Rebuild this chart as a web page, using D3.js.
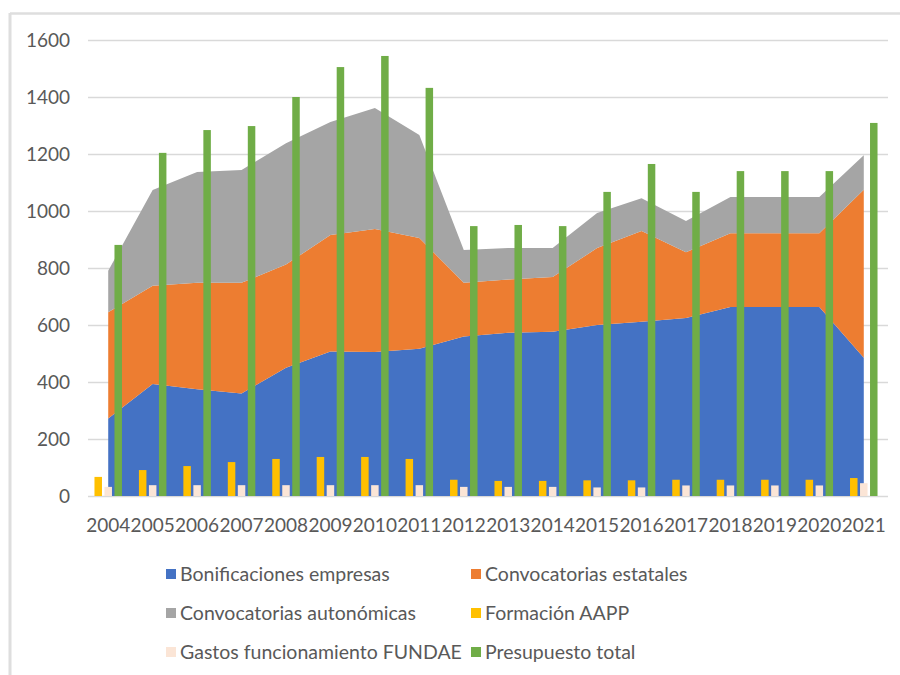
<!DOCTYPE html>
<html>
<head>
<meta charset="utf-8">
<script src="https://cdn.jsdelivr.net/npm/d3@7"></script>
<style>
  body { margin: 0; background: #fff; }
  svg { display: block; font-family: Lato, "Open Sans", sans-serif; }
</style>
</head>
<body>
<div id="chart"></div>
<script>
// data (millions of euros)
let years = ["2004", "2005", "2006", "2007", "2008", "2009", "2010", "2011", "2012",
             "2013", "2014", "2015", "2016", "2017", "2018", "2019", "2020", "2021"];
let bonificaciones = [272, 393, 375, 360, 450, 507, 505, 517, 560, 573, 576, 600, 611, 625, 663, 663, 663, 485];
let convEstatales = [373, 345, 373, 388, 362, 409, 432, 388, 188, 187, 192, 270, 319, 230, 259, 259, 259, 590];
let convAutonomicas = [145, 336, 389, 396, 426, 396, 424, 362, 115, 110, 102, 123, 115, 110, 127, 127, 127, 121];
let formacionAAPP = [67, 91, 105, 119, 130, 137, 137, 130, 57, 53, 53, 55, 55, 57, 57, 57, 57, 63];
let gastosFundae = [32, 38, 38, 38, 38, 38, 38, 38, 32, 32, 32, 30, 30, 37, 37, 37, 37, 45];
let presupuestoTotal = [881, 1204, 1284, 1298, 1400, 1505, 1544, 1432, 947, 951, 947, 1067, 1165, 1067, 1140, 1140, 1140, 1309];
let yTicks = [0, 200, 400, 600, 800, 1000, 1200, 1400, 1600];

let areaKeys = ["Bonificaciones empresas", "Convocatorias estatales", "Convocatorias autonómicas"];
let barKeys = ["Formación AAPP", "Gastos funcionamiento FUNDAE", "Presupuesto total"];
let colors = {
    "Bonificaciones empresas": "#4472c4",
    "Convocatorias estatales": "#ed7d31",
    "Convocatorias autonómicas": "#a5a5a5",
    "Formación AAPP": "#ffc000",
    "Gastos funcionamiento FUNDAE": "#fbe5d6",
    "Presupuesto total": "#70ad47"
};

let table = years.map((yr, i) => ({
    year: yr,
    "Bonificaciones empresas": bonificaciones[i],
    "Convocatorias estatales": convEstatales[i],
    "Convocatorias autonómicas": convAutonomicas[i],
    "Formación AAPP": formacionAAPP[i],
    "Gastos funcionamiento FUNDAE": gastosFundae[i],
    "Presupuesto total": presupuestoTotal[i]
}));

let width = 900, height = 675;

let svg = d3.select("#chart")
    .append("svg")
    .attr("width", width)
    .attr("height", height);

// light frame (top and left edge only, as in the scan)
svg.append("line").attr("x1", 10).attr("x2", 900).attr("y1", 13.5).attr("y2", 13.5)
    .attr("stroke", "#dedede").attr("stroke-width", 2.5);
svg.append("line").attr("x1", 10).attr("x2", 10).attr("y1", 13).attr("y2", 675)
    .attr("stroke", "#dedede").attr("stroke-width", 3);

let x = d3.scaleBand()
    .domain(years)
    .range([88, 888]);

let y = d3.scaleLinear()
    .domain([0, 1600])
    .range([496, 40]);

let cx = d => x(d) + x.bandwidth() / 2 - 2;

// gridlines
svg.append("g")
    .selectAll("line")
    .data(yTicks)
    .join("line")
    .attr("x1", 88)
    .attr("x2", 888)
    .attr("y1", d => y(d) + 0.5)
    .attr("y2", d => y(d) + 0.5)
    .attr("stroke", "#d9d9d9")
    .attr("stroke-width", 1.5);

// y labels
svg.append("g")
    .selectAll("text")
    .data(yTicks)
    .join("text")
    .attr("x", 70)
    .attr("y", d => y(d))
    .attr("dy", "0.36em")
    .attr("text-anchor", "end")
    .attr("fill", "#595959")
    .attr("font-size", "19px")
    .text(d => d);

// stacked areas
let stacked = d3.stack().keys(areaKeys)(table);

let area = d3.area()
    .x(d => cx(d.data.year))
    .y0(d => y(d[0]))
    .y1(d => y(d[1]));

svg.append("g")
    .selectAll("path")
    .data(stacked)
    .join("path")
    .attr("d", area)
    .attr("fill", d => colors[d.key]);

// clustered bars
let xSub = d3.scaleBand()
    .domain(barKeys)
    .range([-13.75, 13.75])
    .paddingInner(0.25);

svg.append("g")
    .selectAll("g")
    .data(table)
    .join("g")
    .attr("transform", d => `translate(${cx(d.year)},0)`)
    .selectAll("rect")
    .data(d => barKeys.map(k => ({ key: k, value: d[k] })))
    .join("rect")
    .attr("x", d => xSub(d.key))
    .attr("y", d => y(d.value))
    .attr("width", xSub.bandwidth())
    .attr("height", d => y(0) - y(d.value))
    .attr("fill", d => colors[d.key]);

// x labels
svg.append("g")
    .selectAll("text")
    .data(years)
    .join("text")
    .attr("x", d => cx(d))
    .attr("y", 532)
    .attr("text-anchor", "middle")
    .attr("fill", "#595959")
    .attr("font-size", "19px")
    .text(d => d);

// legend
let legendKeys = areaKeys.slice(0, 2).concat([areaKeys[2], barKeys[0], barKeys[1], barKeys[2]]);
let legend = svg.append("g")
    .selectAll("g")
    .data(legendKeys)
    .join("g")
    .attr("transform", (d, i) => `translate(${i % 2 === 0 ? 166 : 471},${581 + Math.floor(i / 2) * 39})`);

legend.append("rect")
    .attr("x", 0)
    .attr("y", -12)
    .attr("width", 10)
    .attr("height", 10)
    .attr("fill", d => colors[d]);

legend.append("text")
    .attr("x", 14)
    .attr("y", 0)
    .attr("fill", "#595959")
    .attr("font-size", "19.5px")
    .text(d => d);
</script>
</body>
</html>
